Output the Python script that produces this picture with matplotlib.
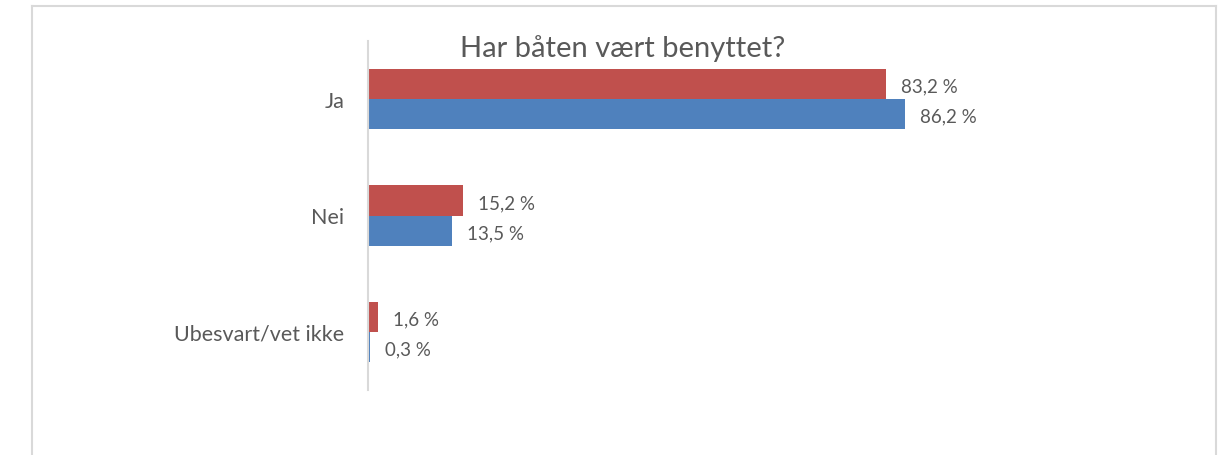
import numpy as np
import matplotlib.pyplot as plt
from matplotlib.lines import Line2D

# ── data ──────────────────────────────────────────────
categories = ["Ja", "Nei", "Ubesvart/vet ikke"]
red_vals = [83.2, 15.2, 1.6]
blue_vals = [86.2, 13.5, 0.3]
title = "Har båten vært benyttet?"

RED = "#C0504D"
BLUE = "#4F81BD"
GRID = "#D9D9D9"
TXT = "#595959"

plt.rcParams['font.family'] = ['Lato', 'DejaVu Sans']

W, H = 1224, 456
fig = plt.figure(figsize=(W / 100, H / 100), dpi=100)

# axes placed in pixel terms
x0, x1 = 368, 991
y_top, y_bot = 42, 391
ax = fig.add_axes([x0 / W, 1 - y_bot / H, (x1 - x0) / W, (y_bot - y_top) / H])

pos = np.arange(len(categories))
bh = 0.258
ax.barh(pos - bh / 2, red_vals, height=bh, color=RED)
ax.barh(pos + bh / 2, blue_vals, height=bh, color=BLUE)

for p, rv, bv in zip(pos, red_vals, blue_vals):
    ax.annotate(f"{rv:.1f} %".replace(".", ","), (rv, p - bh / 2),
                xytext=(15, -2), textcoords="offset pixels",
                va="center", ha="left", fontsize=13.5, color=TXT)
    ax.annotate(f"{bv:.1f} %".replace(".", ","), (bv, p + bh / 2),
                xytext=(15, -2), textcoords="offset pixels",
                va="center", ha="left", fontsize=13.5, color=TXT)

ax.set_xlim(0, 100)
ax.set_ylim(2.5, -0.5)
ax.set_yticks(pos)
ax.set_yticklabels(categories, fontsize=15.5, color=TXT)
ax.tick_params(axis="y", length=0, pad=17)
ax.set_xticks([])
for s in ["top", "right", "bottom"]:
    ax.spines[s].set_visible(False)
ax.spines["left"].set_color(GRID)
ax.spines["left"].set_linewidth(1.5)

fig.text(623 / W, 1 - 49 / H, title, ha="center", va="center",
         fontsize=21, color=TXT)

# chart border (bottom edge is outside the picture)
bx0, bx1, by0 = 32 / W, 1216 / W, 1 - 7 / H
for xs, ys in [([bx0, bx0], [0, by0]), ([bx0, bx1], [by0, by0]), ([bx1, bx1], [by0, 0])]:
    fig.add_artist(Line2D(xs, ys, color=GRID, lw=1.5, transform=fig.transFigure))

fig.savefig("out.png", dpi=100)
